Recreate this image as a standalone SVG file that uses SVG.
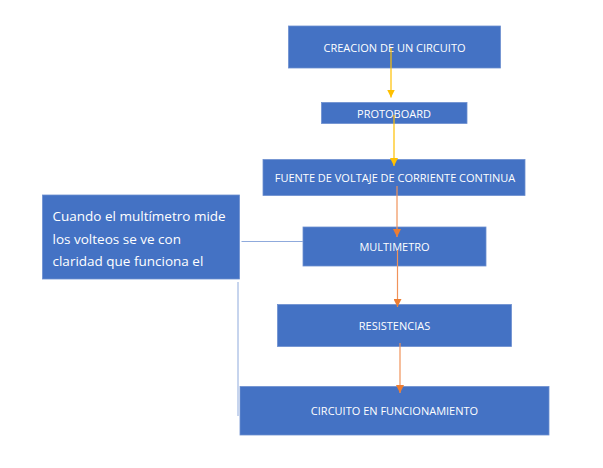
<svg xmlns="http://www.w3.org/2000/svg" width="603" height="468" viewBox="0 0 603 468">
<defs>
<style>
.box{fill:#4472C4;stroke:#6d8fd0;stroke-width:0.8}
.lbl{font-family:"Open Sans","Liberation Sans",sans-serif;font-size:11px;fill:#ffffff;text-anchor:middle;dominant-baseline:central}
.call{font-family:"Open Sans","Liberation Sans",sans-serif;font-size:13.5px;fill:#ffffff}
.y{stroke:#FFC000;stroke-width:1.2;fill:none}
.o{stroke:#F0935A;stroke-width:1.2;fill:none}
.g{stroke:#8FAADC;stroke-width:1;fill:none}
</style>
<marker id="ay" viewBox="0 0 10 10" refX="10" refY="5" markerWidth="8" markerHeight="8" markerUnits="userSpaceOnUse" orient="auto"><path d="M0,0 L10,5 L0,10 z" fill="#FFC000"/></marker>
<marker id="ao" viewBox="0 0 10 10" refX="10" refY="5" markerWidth="8" markerHeight="8" markerUnits="userSpaceOnUse" orient="auto"><path d="M0,0 L10,5 L0,10 z" fill="#ED7D31"/></marker>
</defs>
<rect width="603" height="468" fill="#ffffff"/>
<g id="n1"><rect class="box" x="288.5" y="26" width="212" height="42"/><text class="lbl" x="394.5" y="47">CREACION DE UN CIRCUITO</text></g>
<g id="n2"><rect class="box" x="321.5" y="102.5" width="145.5" height="21"/><text class="lbl" x="394" y="113">PROTOBOARD</text></g>
<g id="n3"><rect class="box" x="263" y="159.5" width="262" height="36"/><text class="lbl" x="395" y="177.5">FUENTE DE VOLTAJE DE CORRIENTE CONTINUA</text></g>
<g id="n4"><rect class="box" x="303" y="227" width="183" height="39"/><text class="lbl" x="394.5" y="246">MULTIMETRO</text></g>
<g id="n5"><rect class="box" x="277.5" y="304.5" width="234" height="42"/><text class="lbl" x="394.5" y="325.5">RESISTENCIAS</text></g>
<g id="n6"><rect class="box" x="240" y="386.5" width="309" height="48.5"/><text class="lbl" x="394.5" y="410.5">CIRCUITO EN FUNCIONAMIENTO</text></g>
<g id="callout"><rect class="box" x="42.5" y="195" width="197" height="84"/>
<text class="call" x="52.5" y="221">Cuando el multímetro mide</text>
<text class="call" x="52.5" y="243.5">los volteos se ve con</text>
<text class="call" x="52.5" y="266">claridad que funciona el</text></g>
<g id="connectors">
<line class="y" x1="391" y1="48" x2="391" y2="97.5" marker-end="url(#ay)"/>
<line class="y" x1="394" y1="115" x2="394" y2="166" marker-end="url(#ay)"/>
<line class="o" x1="397" y1="186" x2="397" y2="237" marker-end="url(#ao)"/>
<line class="o" x1="397.5" y1="250" x2="397.5" y2="307" marker-end="url(#ao)"/>
<line class="o" x1="400" y1="343" x2="400" y2="393" marker-end="url(#ao)"/>
<line class="g" x1="241.5" y1="241.5" x2="303" y2="241.5"/>
<line class="g" x1="238" y1="282" x2="238" y2="416"/>
</g>
</svg>
